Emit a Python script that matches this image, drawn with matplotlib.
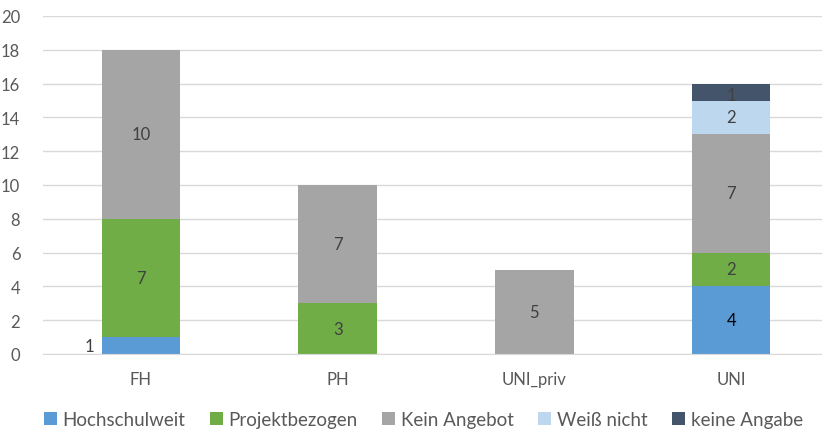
import numpy as np
import matplotlib.pyplot as plt

categories = ["FH", "PH", "UNI_priv", "UNI"]
series_names = ["Hochschulweit", "Projektbezogen", "Kein Angebot", "Weiß nicht", "keine Angabe"]
hochschulweit = [1, 0, 0, 4]
projektbezogen = [7, 3, 0, 2]
kein_angebot = [10, 7, 5, 7]
weiss_nicht = [0, 0, 0, 2]
keine_angabe = [0, 0, 0, 1]

colors = ["#5B9BD5", "#70AD47", "#A5A5A5", "#BDD7EE", "#44546A"]


def main():
    plt.rcParams.update({"font.family": ["Lato", "DejaVu Sans"]})
    fig = plt.figure(figsize=(8.22, 4.35), dpi=100)
    ax = fig.add_axes([42.5 / 822, 80 / 435, 787 / 822, 338 / 435])

    values = [hochschulweit, projektbezogen, kein_angebot, weiss_nicht, keine_angabe]
    x = np.arange(len(categories))
    bottom = np.zeros(len(categories))
    for name, vals, col in zip(series_names, values, colors):
        vals = np.array(vals, dtype=float)
        ax.bar(x, vals, 0.4, bottom=bottom, color=col, label=name, zorder=2)
        for i, v in enumerate(vals):
            if v == 0:
                continue
            txt_col = "#000000" if (name == "Hochschulweit" and i == 3) else "#404040"
            if name == "Hochschulweit" and i == 0:
                # small segment: label sits left of the bar
                ax.text(x[i] - 0.26, bottom[i] + v / 2, f"{int(v)}", ha="center",
                        va="center", fontsize=12, color=txt_col)
            elif name == "keine Angabe":
                ax.text(x[i], bottom[i] + v * 0.3, f"{int(v)}", ha="center",
                        va="center", fontsize=12, color=txt_col)
            else:
                ax.text(x[i], bottom[i] + v / 2, f"{int(v)}", ha="center",
                        va="center", fontsize=12, color=txt_col)
        bottom += vals

    ax.set_xlim(-0.5, 3.5)
    ax.set_ylim(0, 20)
    ax.set_yticks(range(0, 21, 2))
    ax.set_xticks(x)
    ax.set_xticklabels(categories)
    ax.grid(axis="y", color="#D9D9D9", linewidth=1, zorder=0)
    for s in ["top", "right", "left"]:
        ax.spines[s].set_visible(False)
    ax.spines["bottom"].set_color("#D9D9D9")
    ax.tick_params(length=0, labelsize=12, colors="#595959", pad=12)
    ax.tick_params(axis="y", pad=16)

    fig.legend(loc="lower center", bbox_to_anchor=(0.515, -0.025), ncol=5, frameon=False,
               fontsize=13.5, handlelength=0.7, handleheight=0.7, handletextpad=0.3,
               columnspacing=1.3, labelcolor="#595959")

    fig.savefig("out.png", dpi=100)


if __name__ == "__main__":
    main()
